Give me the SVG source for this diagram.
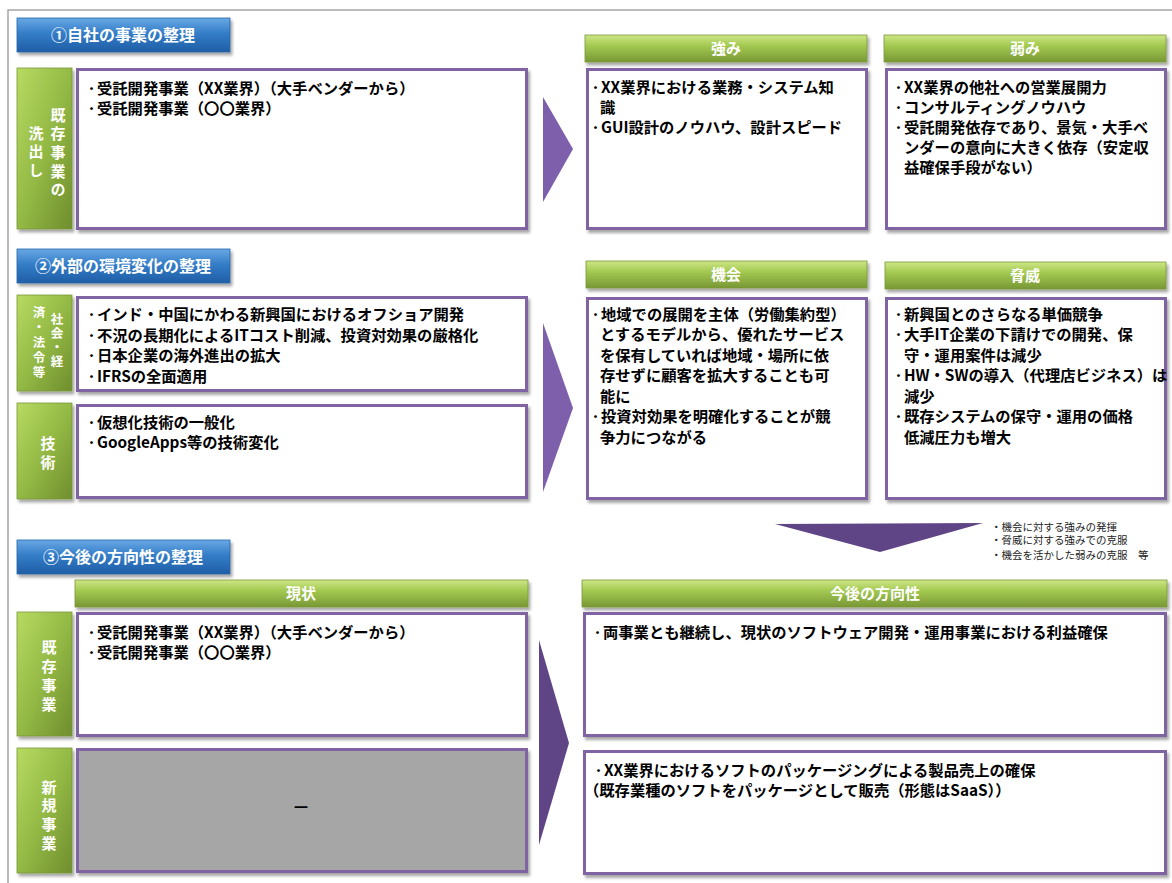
<svg xmlns="http://www.w3.org/2000/svg" width="1172" height="883" viewBox="0 0 1172 883">
<defs>
<linearGradient id="gBlue" x1="0" y1="0" x2="0" y2="1">
<stop offset="0" stop-color="#6aa8e4"/>
<stop offset="0.45" stop-color="#347dc8"/>
<stop offset="1" stop-color="#1f5ea6"/>
</linearGradient>
<linearGradient id="gGreenH" x1="0" y1="0" x2="0" y2="1">
<stop offset="0" stop-color="#cde685"/>
<stop offset="0.4" stop-color="#a3c951"/>
<stop offset="1" stop-color="#789735"/>
</linearGradient>
<linearGradient id="gGreenV" x1="0" y1="0" x2="1" y2="1">
<stop offset="0" stop-color="#b7da62"/>
<stop offset="0.5" stop-color="#94ba45"/>
<stop offset="1" stop-color="#6f8d2e"/>
</linearGradient>
<filter id="sh" x="-10%" y="-10%" width="120%" height="130%">
<feDropShadow dx="2" dy="3" stdDeviation="1.8" flood-color="#000" flood-opacity="0.35"/>
</filter>
</defs>
<style>
.frame{fill:none;stroke:#a6a6a6;stroke-width:1.5}
.hb{fill:url(#gBlue);stroke:#2a65a8;stroke-width:0.8;filter:url(#sh)}
.hg{fill:url(#gGreenH);stroke:#7a9a38;stroke-width:0.8;filter:url(#sh)}
.lg{fill:url(#gGreenV);stroke:#7a9a38;stroke-width:0.8;filter:url(#sh)}
.box{fill:#ffffff;stroke:#8064a2;stroke-width:3;filter:url(#sh)}
.gbox{fill:#a6a6a6;stroke:#8064a2;stroke-width:3;filter:url(#sh)}
.ht{font-family:"Noto Sans CJK JP","Noto Sans",sans-serif;font-weight:bold;font-size:16px;fill:#ffffff;text-anchor:middle}
.gt{font-family:"Noto Sans CJK JP","Noto Sans",sans-serif;font-weight:bold;font-size:15px;fill:#ffffff;text-anchor:middle}
.vt{font-family:"Noto Sans CJK JP","Noto Sans",sans-serif;font-weight:bold;font-size:15px;fill:#ffffff;writing-mode:vertical-rl;text-orientation:upright}
.vs{font-family:"Noto Sans CJK JP","Noto Sans",sans-serif;font-weight:bold;font-size:12.5px;fill:#ffffff;writing-mode:vertical-rl;text-orientation:upright}
.t{font-family:"Noto Sans CJK JP","Noto Sans",sans-serif;font-weight:bold;font-size:15.3px;fill:#000000}
.b{font-size:11px}
.n{font-family:"Noto Sans CJK JP","Noto Sans",sans-serif;font-size:10.5px;fill:#222222}
.dash{font-family:"Noto Sans CJK JP","Noto Sans",sans-serif;font-weight:bold;font-size:18px;fill:#000000;text-anchor:middle}
.arL{fill:#7e5fab}
.arD{fill:#5f4585}
</style>

<rect class="frame" x="8" y="10" width="1200" height="900"/>

<!-- Section 1 -->
<g id="hdr1">
<rect class="hb" x="17" y="18" width="213" height="34"/>
<text class="ht" x="123" y="41">①自社の事業の整理</text>
</g>
<g id="lbl-existing">
<rect class="lg" x="17" y="68" width="55" height="161"/>
<text class="vt" x="58" y="107.5" letter-spacing="3.7">既存事業の</text>
<text class="vt" x="36" y="125.5" letter-spacing="3.7">洗出し</text>
</g>
<g id="box-existing">
<rect class="box" x="77.5" y="69.5" width="449" height="159"/>
<text class="t" x="86" y="94"><tspan class="b" dy="-1.5">・</tspan><tspan dy="1.5">受託開発事業（XX業界）（大手ベンダーから）</tspan></text>
<text class="t" x="86" y="114"><tspan class="b" dy="-1.5">・</tspan><tspan dy="1.5">受託開発事業（〇〇業界）</tspan></text>
</g>
<g id="hdr-strength">
<rect class="hg" x="585" y="35" width="282" height="27"/>
<text class="gt" x="726" y="54">強み</text>
</g>
<g id="box-strength">
<rect class="box" x="587.5" y="69.5" width="279" height="159"/>
<text class="t" x="590" y="93"><tspan class="b" dy="-1.5">・</tspan><tspan dy="1.5">XX業界における業務・システム知</tspan></text>
<text class="t" x="600" y="113">識</text>
<text class="t" x="590" y="133"><tspan class="b" dy="-1.5">・</tspan><tspan dy="1.5">GUI設計のノウハウ、設計スピード</tspan></text>
</g>
<g id="hdr-weak">
<rect class="hg" x="884" y="35" width="282" height="27"/>
<text class="gt" x="1025" y="54">弱み</text>
</g>
<g id="box-weak">
<rect class="box" x="886.5" y="69.5" width="279" height="159"/>
<text class="t" x="893" y="93"><tspan class="b" dy="-1.5">・</tspan><tspan dy="1.5">XX業界の他社への営業展開力</tspan></text>
<text class="t" x="893" y="113"><tspan class="b" dy="-1.5">・</tspan><tspan dy="1.5">コンサルティングノウハウ</tspan></text>
<text class="t" x="893" y="133"><tspan class="b" dy="-1.5">・</tspan><tspan dy="1.5">受託開発依存であり、景気・大手ベ</tspan></text>
<text class="t" x="904" y="153">ンダーの意向に大きく依存（安定収</text>
<text class="t" x="904" y="173">益確保手段がない）</text>
</g>

<!-- Section 2 -->
<g id="hdr2">
<rect class="hb" x="17" y="249" width="213" height="34"/>
<text class="ht" x="123" y="272">②外部の環境変化の整理</text>
</g>
<g id="lbl-social">
<rect class="lg" x="17" y="295" width="55" height="96"/>
<text class="vs" x="57" y="313" letter-spacing="1.5">社会・経</text>
<text class="vs" x="39" y="306" letter-spacing="2.5">済・法令等</text>
</g>
<g id="box-social">
<rect class="box" x="77.5" y="297.5" width="449" height="93"/>
<text class="t" x="86" y="320"><tspan class="b" dy="-1.5">・</tspan><tspan dy="1.5">インド・中国にかわる新興国におけるオフショア開発</tspan></text>
<text class="t" x="86" y="341"><tspan class="b" dy="-1.5">・</tspan><tspan dy="1.5">不況の長期化によるITコスト削減、投資対効果の厳格化</tspan></text>
<text class="t" x="86" y="361"><tspan class="b" dy="-1.5">・</tspan><tspan dy="1.5">日本企業の海外進出の拡大</tspan></text>
<text class="t" x="86" y="382"><tspan class="b" dy="-1.5">・</tspan><tspan dy="1.5">IFRSの全面適用</tspan></text>
</g>
<g id="lbl-tech">
<rect class="lg" x="17" y="403" width="55" height="96"/>
<text class="vt" x="48" y="435.5" letter-spacing="4">技術</text>
</g>
<g id="box-tech">
<rect class="box" x="77.5" y="405.5" width="449" height="92"/>
<text class="t" x="86" y="428"><tspan class="b" dy="-1.5">・</tspan><tspan dy="1.5">仮想化技術の一般化</tspan></text>
<text class="t" x="86" y="448"><tspan class="b" dy="-1.5">・</tspan><tspan dy="1.5">GoogleApps等の技術変化</tspan></text>
</g>
<g id="hdr-opp">
<rect class="hg" x="586" y="261" width="281" height="27"/>
<text class="gt" x="726" y="280">機会</text>
</g>
<g id="box-opp">
<rect class="box" x="587.5" y="298.5" width="279" height="200"/>
<text class="t" x="590" y="320"><tspan class="b" dy="-1.5">・</tspan><tspan dy="1.5">地域での展開を主体（労働集約型）</tspan></text>
<text class="t" x="600" y="340">とするモデルから、優れたサービス</text>
<text class="t" x="600" y="361">を保有していれば地域・場所に依</text>
<text class="t" x="600" y="381">存せずに顧客を拡大することも可</text>
<text class="t" x="600" y="402">能に</text>
<text class="t" x="590" y="422"><tspan class="b" dy="-1.5">・</tspan><tspan dy="1.5">投資対効果を明確化することが競</tspan></text>
<text class="t" x="600" y="443">争力につながる</text>
</g>
<g id="hdr-threat">
<rect class="hg" x="885" y="262" width="281" height="27"/>
<text class="gt" x="1025" y="281">脅威</text>
</g>
<g id="box-threat">
<rect class="box" x="886.5" y="298.5" width="279" height="200"/>
<text class="t" x="893" y="320"><tspan class="b" dy="-1.5">・</tspan><tspan dy="1.5">新興国とのさらなる単価競争</tspan></text>
<text class="t" x="893" y="340"><tspan class="b" dy="-1.5">・</tspan><tspan dy="1.5">大手IT企業の下請けでの開発、保</tspan></text>
<text class="t" x="904" y="361">守・運用案件は減少</text>
<text class="t" x="893" y="381"><tspan class="b" dy="-1.5">・</tspan><tspan dy="1.5">HW・SWの導入（代理店ビジネス）は</tspan></text>
<text class="t" x="904" y="402">減少</text>
<text class="t" x="893" y="422"><tspan class="b" dy="-1.5">・</tspan><tspan dy="1.5">既存システムの保守・運用の価格</tspan></text>
<text class="t" x="904" y="443">低減圧力も増大</text>
</g>

<!-- Section 3 -->
<g id="hdr3">
<rect class="hb" x="17" y="540" width="213" height="34"/>
<text class="ht" x="123" y="563">③今後の方向性の整理</text>
</g>
<g id="hdr-current">
<rect class="hg" x="75" y="580" width="453" height="27"/>
<text class="gt" x="301" y="599">現状</text>
</g>
<g id="lbl-exist2">
<rect class="lg" x="17" y="612" width="55" height="124"/>
<text class="vt" x="49" y="639.5" letter-spacing="4">既存事業</text>
</g>
<g id="box-exist2">
<rect class="box" x="77.5" y="613.5" width="449" height="122"/>
<text class="t" x="86" y="638"><tspan class="b" dy="-1.5">・</tspan><tspan dy="1.5">受託開発事業（XX業界）（大手ベンダーから）</tspan></text>
<text class="t" x="86" y="658"><tspan class="b" dy="-1.5">・</tspan><tspan dy="1.5">受託開発事業（〇〇業界）</tspan></text>
</g>
<g id="lbl-new">
<rect class="lg" x="17" y="748" width="55" height="125"/>
<text class="vt" x="49" y="779.5" letter-spacing="3.8">新規事業</text>
</g>
<g id="box-new">
<rect class="gbox" x="77.5" y="749.5" width="449" height="122"/>
<text class="dash" x="301" y="814">－</text>
</g>
<g id="hdr-future">
<rect class="hg" x="582" y="580" width="585" height="27"/>
<text class="gt" x="875" y="599">今後の方向性</text>
</g>
<g id="box-future1">
<rect class="box" x="584.5" y="613.5" width="581" height="122"/>
<text class="t" x="592" y="638"><tspan class="b" dy="-1.5">・</tspan><tspan dy="1.5">両事業とも継続し、現状のソフトウェア開発・運用事業における利益確保</tspan></text>
</g>
<g id="box-future2">
<rect class="box" x="584.5" y="751.5" width="581" height="122"/>
<text class="t" x="593" y="776"><tspan class="b" dy="-1.5">・</tspan><tspan dy="1.5">XX業界におけるソフトのパッケージングによる製品売上の確保</tspan></text>
<text class="t" x="584" y="796">（既存業種のソフトをパッケージとして販売（形態はSaaS））</text>
</g>

<g id="notes">
<text class="n" x="991" y="531">・機会に対する強みの発揮</text>
<text class="n" x="991" y="544">・脅威に対する強みでの克服</text>
<text class="n" x="991" y="559">・機会を活かした弱みの克服　等</text>
</g>

<g id="connectors">
<polygon class="arL" points="543,97 573,149 543,202"/>
<polygon class="arL" points="543,323 573,408 543,492"/>
<polygon class="arD" points="539,640 569,743 539,845"/>
<polygon class="arD" points="775,524 983,523 880,552"/>
</g>
</svg>
